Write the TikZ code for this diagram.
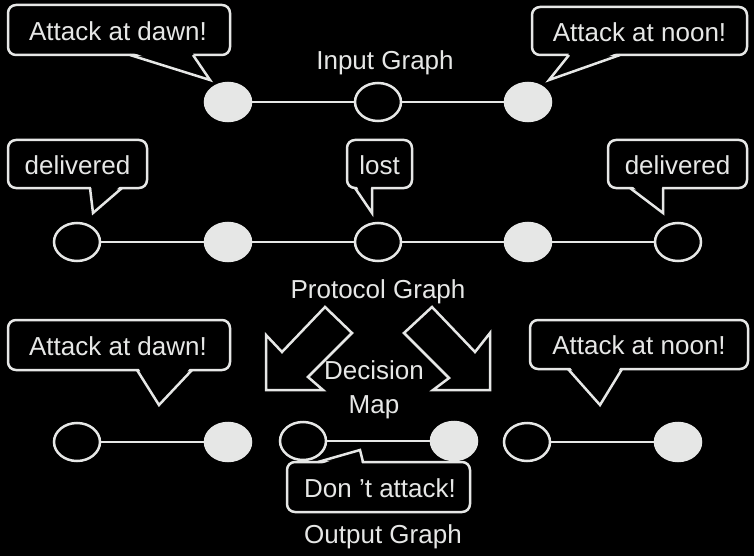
\documentclass[tikz,border=0pt]{standalone}
\usepackage{fontspec}
\setmainfont{Liberation Sans}
\usetikzlibrary{shapes.geometric}
\definecolor{fg}{HTML}{E6E7E6}
\begin{document}
\begin{tikzpicture}[x=1pt,y=-1pt,
  every node/.style={text=fg, font=\fontsize{26}{34}\selectfont},
  onode/.style={ellipse, draw=fg, line width=2.5pt, fill=black, minimum width=46pt, minimum height=38pt, inner sep=0pt},
  fnode/.style={onode, fill=fg},
  edge/.style={draw=fg, line width=2.5pt},
  bubble/.style={draw=fg, line width=2.5pt, rounded corners=8pt, fill=black, inner sep=0pt},
  ptr/.style={draw=fg, line width=2.5pt, line join=miter},
  cover/.style={fill=black},
  blockarrow/.style={draw=fg, line width=2.5pt, line join=miter}]
\fill[black] (0,0) rectangle (754,556);
\useasboundingbox (0,0) rectangle (754,556);

% ---------- Input graph ----------
\node[fnode] (i1) at (228,102) {};
\node[onode] (i2) at (378,102) {};
\node[fnode] (i3) at (528,102) {};
\draw[edge] (i1) -- (i2);
\draw[edge] (i2) -- (i3);
\node (inlabel) at (385,63) {Input Graph};

\node[bubble, minimum width=222pt, minimum height=50pt] (b1) at (119,30) {};
\node (b1t) at (118,31) {Attack at dawn!};
\coordinate (t1) at (210,80);
\fill[cover] (131,52) -- (t1) -- (192,52) -- cycle;
\draw[ptr] (130,55) -- (t1) -- (193,55);

\node[bubble, minimum width=215pt, minimum height=48pt] (b2) at (639.5,31) {};
\node (b2t) at (639.5,32) {Attack at noon!};
\coordinate (t2) at (549,80);
\fill[cover] (570,52) -- (t2) -- (619,52) -- cycle;
\draw[ptr] (569,55) -- (t2) -- (620,55);

% ---------- Protocol graph ----------
\node[onode] (p1) at (77,242) {};
\node[fnode] (p2) at (228,242) {};
\node[onode] (p3) at (378,242) {};
\node[fnode] (p4) at (528,242) {};
\node[onode] (p5) at (678,242) {};
\draw[edge] (p1) -- (p2);
\draw[edge] (p2) -- (p3);
\draw[edge] (p3) -- (p4);
\draw[edge] (p4) -- (p5);
\node (plabel) at (378,292) {Protocol Graph};

\node[bubble, minimum width=139pt, minimum height=48pt] (d1) at (77.5,164) {};
\node (d1t) at (77.5,165) {delivered};
\coordinate (t3) at (93,213);
\fill[cover] (91,185) -- (t3) -- (121,185) -- cycle;
\draw[ptr] (90,188) -- (t3) -- (122,188);

\node[bubble, minimum width=65pt, minimum height=48pt] (lo) at (379.5,164) {};
\node (lot) at (379.5,165) {lost};
\coordinate (t4) at (372,213);
\fill[cover] (356,185) -- (t4) -- (371,185) -- cycle;
\draw[ptr] (355,188) -- (t4) -- (372,188);

\node[bubble, minimum width=139pt, minimum height=48pt] (d2) at (677.5,164) {};
\node (d2t) at (677.5,165) {delivered};
\coordinate (t5) at (663,213);
\fill[cover] (631,185) -- (t5) -- (662,185) -- cycle;
\draw[ptr] (630,188) -- (t5) -- (663,188);

% ---------- Decision map arrows ----------
\draw[blockarrow] (266,390) -- (266,335) -- (282,352) -- (325,307) -- (352,333) -- (308,377) -- (323,390) -- cycle;
\draw[blockarrow] (490,390) -- (490,333) -- (475,352) -- (432,307) -- (404,333) -- (449,378) -- (433,390) -- cycle;
\node[align=center] (dm) at (374,390) {Decision\\Map};

% ---------- Output graph ----------
\node[onode] (o1) at (77,442) {};
\node[fnode] (o2) at (228,442) {};
\draw[edge] (o1) -- (o2);
\node[onode] (o3) at (303,441) {};
\node[fnode] (o4) at (454,441) {};
\draw[edge] (o3) -- (o4);
\node[onode] (o5) at (527,442) {};
\node[fnode] (o6) at (678,442) {};
\draw[edge] (o5) -- (o6);

\node[bubble, minimum width=222pt, minimum height=50pt] (b3) at (119,345) {};
\node (b3t) at (118,346) {Attack at dawn!};
\coordinate (t6) at (159,405);
\fill[cover] (138,367) -- (t6) -- (191,367) -- cycle;
\draw[ptr] (137,370) -- (t6) -- (192,370);

\node[bubble, minimum width=218pt, minimum height=49pt] (b4) at (639,344.5) {};
\node (b4t) at (639,345) {Attack at noon!};
\coordinate (t7) at (600,405);
\fill[cover] (569,366) -- (t7) -- (621,366) -- cycle;
\draw[ptr] (568,369) -- (t7) -- (622,369);

\node[bubble, minimum width=183pt, minimum height=50pt] (b5) at (378.5,487) {};
\node (b5t) at (380,488) {Don ’t attack!};
\coordinate (t8) at (360,450);
\fill[cover] (319,465) -- (t8) -- (362,465) -- cycle;
\draw[ptr] (318,462) -- (t8) -- (363,462);

\node (olabel) at (383,537) {Output Graph};
\end{tikzpicture}
\end{document}
